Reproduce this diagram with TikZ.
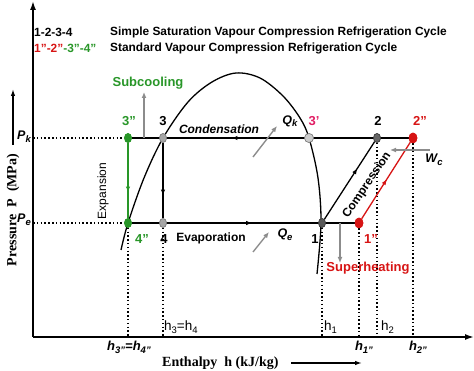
\documentclass[tikz,border=0pt]{standalone}
\usepackage{fontspec}
\setmainfont{Liberation Sans}
\newfontfamily\serifb{Liberation Serif}
\usetikzlibrary{arrows.meta,decorations.markings,shapes.geometric}
\definecolor{cgreen}{RGB}{40,150,40}
\definecolor{cred}{RGB}{215,20,20}
\definecolor{cmag}{RGB}{225,30,100}
\definecolor{cgray}{RGB}{140,140,140}
\newcommand\sbs[1]{\raisebox{-0.4ex}{\fontsize{9.5}{10}\selectfont #1}}
\begin{document}
\begin{tikzpicture}[x=1pt,y=-1pt,
  axis/.style={line width=1.6pt,-{Latex[length=9pt,width=6pt]}},
  cyc/.style={line width=1.3pt},
  dots/.style={line width=1.5pt, dash pattern=on 1.5pt off 2.3pt},
  ptn/.style={ellipse, draw, inner sep=0pt, minimum width=7pt, minimum height=9pt, line width=0.6pt},
  lab/.style={font=\bfseries\fontsize{12}{14}\selectfont, inner sep=1pt},
  plab/.style={font=\bfseries\fontsize{13}{15}\selectfont, inner sep=1pt},
  qlab/.style={font=\bfseries\itshape\fontsize{12.5}{15}\selectfont, inner sep=1pt},
  hlab/.style={font=\fontsize{13.5}{15}\selectfont, inner sep=1pt},
  hilab/.style={font=\bfseries\itshape\fontsize{13}{15}\selectfont, inner sep=1pt},
  leg/.style={font=\bfseries\fontsize{11.9}{14}\selectfont, inner sep=1pt, anchor=west},
  midarrow/.style={postaction={decorate},decoration={markings,mark=at position #1 with {\arrow{Latex[length=6pt,width=4.5pt]}}}},
  garrow/.style={draw=cgray, line width=1.4pt, -{Latex[length=6pt,width=5pt]}}
]
\useasboundingbox (0,0) rectangle (474,371);

% axes
\coordinate (O) at (33,337);
\coordinate (ytop) at (33,1);
\coordinate (xend) at (474,337);
\draw[axis] (O) -- (ytop);
\draw[axis] (O) -- (xend);

% dome
\draw[line width=1.3pt] plot[smooth, tension=0.55] coordinates {(121,250) (128,223) (144,178) (163,138) (188,102) (212,82) (236,73) (260,78) (283,96) (300,118) (309,138) (318,178) (321,223) (317,274)};

% state points
\node[ptn, fill=cgreen, draw=cgreen] (p3dd) at (128,138) {};
\node[ptn, fill=gray!70, draw=gray] (p3) at (163,138) {};
\node[ptn, fill=gray!40, draw=gray, minimum width=9pt] (p3p) at (309,138) {};
\node[ptn, fill=gray!80!black, draw=gray!50!black] (p2) at (377,138) {};
\node[ptn, fill=cred, draw=cred, minimum width=8pt, minimum height=10pt] (p2dd) at (413,138) {};
\node[ptn, fill=cgreen, draw=cgreen] (p4dd) at (128,223) {};
\node[ptn, fill=gray!70, draw=gray] (p4) at (163,223) {};
\node[ptn, fill=gray!70!black, draw=gray!50!black] (p1) at (322,223) {};
\node[ptn, fill=cred, draw=cred, minimum width=8pt, minimum height=10pt] (p1dd) at (359,223) {};

% helper coordinates
\coordinate (pk0) at (33,138);
\coordinate (pe0) at (33,223);
\coordinate (h3dd) at (128,337);
\coordinate (h3) at (163,337);
\coordinate (h1) at (322,337);
\coordinate (h1dd) at (359,337);
\coordinate (h2) at (377,337);
\coordinate (h2dd) at (413,337);

% dotted lines
\draw[dots] (pk0) -- (p3dd);
\draw[dots] (pe0) -- (p4dd);
\draw[dots] (p4dd) -- (h3dd);
\draw[dots] (p4) -- (h3);
\draw[dots] (p1) -- (h1);
\draw[dots] (p1dd) -- (h1dd);
\draw[dots] (p2) -- (h2);
\draw[dots] (p2dd) -- (h2dd);

% cycle lines
\draw[cyc, midarrow=0.64] (p2dd) -- (p3dd);
\draw[cyc, midarrow=0.54] (p4dd) -- (p1dd);
\draw[cyc, midarrow=0.7] (p3) -- (p4);
\draw[cyc, draw=cgreen, midarrow=0.66] (p3dd) -- (p4dd);
\draw[cyc, midarrow=0.66] (p1) -- (p2);
\draw[cyc, draw=cred, midarrow=0.52] (p1dd) -- (p2dd);

% redraw markers on top of the lines
\node[ptn, fill=cgreen, draw=cgreen] at (128,138) {};
\node[ptn, fill=gray!70, draw=gray] at (163,138) {};
\node[ptn, fill=gray!40, draw=gray, minimum width=9pt] at (309,138) {};
\node[ptn, fill=gray!80!black, draw=gray!50!black] at (377,138) {};
\node[ptn, fill=cred, draw=cred, minimum width=8pt, minimum height=10pt] at (413,138) {};
\node[ptn, fill=cgreen, draw=cgreen] at (128,223) {};
\node[ptn, fill=gray!70, draw=gray] at (163,223) {};
\node[ptn, fill=gray!70!black, draw=gray!50!black] at (322,223) {};
\node[ptn, fill=cred, draw=cred, minimum width=8pt, minimum height=10pt] at (359,223) {};

% gray arrows
\coordinate (sc0) at (144,138);
\coordinate (sc1) at (144,92);
\draw[garrow] (sc0) -- (sc1);
\coordinate (qk0) at (253,157);
\coordinate (qk1) at (277,126);
\draw[garrow] (qk0) -- (qk1);
\coordinate (qe0) at (253,252);
\coordinate (qe1) at (269,232);
\draw[garrow] (qe0) -- (qe1);
\coordinate (wc0) at (430,150);
\coordinate (wc1) at (390,150);
\draw[garrow] (wc0) -- (wc1);
\coordinate (sh0) at (340,223);
\coordinate (sh1) at (340,263);
\draw[garrow] (sh0) -- (sh1);

% point labels
\node[plab, text=cgreen] (l3dd) at (129,121) {3"};
\node[plab] (l3) at (163,121) {3};
\node[plab, text=cmag] (l3p) at (314,121) {3'};
\node[plab] (l2) at (378,121) {2};
\node[plab, text=cred] (l2dd) at (420,121) {2"};
\node[plab, text=cgreen] (l4dd) at (142,239) {4"};
\node[plab] (l4) at (164,239) {4};
\node[plab] (l1) at (315,239) {1};
\node[plab, text=cred] (l1dd) at (371,239) {1"};

% process labels
\node[lab, font=\bfseries\itshape\fontsize{12}{14}\selectfont] (lcond) at (219,129) {Condensation};
\node[lab] (levap) at (211,238) {Evaporation};
\node[lab, font=\fontsize{12}{14}\selectfont, rotate=90] (lexp) at (103,191) {Expansion};
\node[lab, rotate=56] (lcomp) at (367,185) {Compression};
\node[plab, text=cgreen] (lsub) at (148,83) {Subcooling};
\node[plab, text=cred] (lsup) at (368,268) {Superheating};
\node[qlab] (lqk) at (290,121) {Q\sbs{k}};
\node[qlab] (lqe) at (285,235) {Q\sbs{e}};
\node[qlab] (lwc) at (434,160) {W\sbs{c}};
\node[qlab, anchor=east] (lpk) at (32,137) {P\sbs{k}};
\node[qlab, anchor=east] (lpe) at (32,220) {P\sbs{e}};

% enthalpy labels
\node[hlab, anchor=west] (lh34) at (163,327) {h\sbs{3}=h\sbs{4}};
\node[hilab] (lh34dd) at (129,347) {h\sbs{3"}=h\sbs{4"}};
\node[hlab, anchor=west] (lh1) at (323,327) {h\sbs{1}};
\node[hlab, anchor=west] (lh2) at (380,327) {h\sbs{2}};
\node[hilab] (lh1dd) at (364,347) {h\sbs{1"}};
\node[hilab] (lh2dd) at (418,347) {h\sbs{2"}};

% axis titles
\node[font=\serifb\bfseries\fontsize{14}{16}\selectfont, rotate=90, inner sep=0pt] (ylab) at (13,210) {Pressure\ \ P\ \ (MPa)};
\coordinate (ya0) at (13,145);
\coordinate (ya1) at (13,89);
\draw[line width=1.3pt, -{Latex[length=7pt,width=4.5pt]}] (ya0) -- (ya1);
\node[font=\serifb\bfseries\fontsize{14}{16}\selectfont, inner sep=0pt, anchor=west] (xlab) at (162,363) {Enthalpy\ \ h\ (kJ/kg)};
\coordinate (xa0) at (291,363);
\coordinate (xa1) at (362,363);
\draw[line width=1.3pt, -{Latex[length=7pt,width=4.5pt]}] (xa0) -- (xa1);

% legend
\node[leg] (leg1a) at (33,32) {1-2-3-4};
\node[leg] (leg1b) at (109,32) {Simple Saturation Vapour Compression Refrigeration Cycle};
\node[leg] (leg2a) at (33,48) {\textcolor{cred}{1"-2"}\textcolor{cgreen}{-3"-4"}};
\node[leg] (leg2b) at (109,48) {Standard Vapour Compression Refrigeration Cycle};
\end{tikzpicture}
\end{document}
